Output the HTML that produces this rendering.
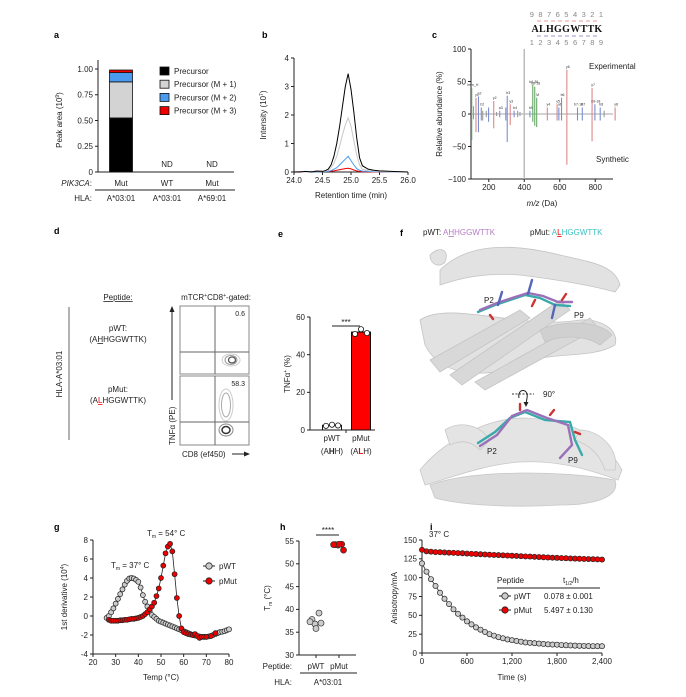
<!DOCTYPE html>
<html><head><meta charset="utf-8"><style>
html,body{margin:0;padding:0;background:#fff;}
svg{display:block;font-family:"Liberation Sans",Arial,sans-serif;}
.t{font-size:8px;fill:#222}
.s{font-size:7px;fill:#222}
.L{font-size:9px;font-weight:bold;fill:#000}
.ax{stroke:#222;stroke-width:1;fill:none}
</style></head><body>
<svg id="fig" width="686" height="697" viewBox="0 0 686 697" xmlns="http://www.w3.org/2000/svg">
<text class="L" x="54" y="38">a</text>
<text class="L" x="262" y="38">b</text>
<text class="L" x="432" y="38">c</text>
<text class="L" x="54" y="234">d</text>
<text class="L" x="278" y="237">e</text>
<text class="L" x="400" y="236">f</text>
<text class="L" x="54" y="530">g</text>
<text class="L" x="280" y="530">h</text>
<text class="L" x="430" y="530">i</text>

<!-- panel a static labels -->
<text class="t" x="62" y="120" transform="rotate(-90 62 120)" text-anchor="middle">Peak area (10<tspan font-size="5" dy="-3">9</tspan><tspan dy="3">)</tspan></text>
<text class="t" x="92" y="186" text-anchor="end" font-style="italic">PIK3CA<tspan font-style="normal">:</tspan></text>
<line x1="95" y1="190" x2="235" y2="190" stroke="#222"/>
<text class="t" x="92" y="201" text-anchor="end">HLA:</text>

<!-- panel b static -->
<text class="t" x="266" y="115" transform="rotate(-90 266 115)" text-anchor="middle">Intensity (10<tspan font-size="5" dy="-3">7</tspan><tspan dy="3">)</tspan></text>
<text class="t" x="351" y="198" text-anchor="middle">Retention time (min)</text>

<!-- panel c static -->
<text class="t" x="442" y="114" transform="rotate(-90 442 114)" text-anchor="middle">Relative abundance (%)</text>
<text class="t" x="542" y="206" text-anchor="middle"><tspan font-style="italic">m/z</tspan> (Da)</text>
<text class="t" x="589" y="69">Experimental</text>
<text class="t" x="596" y="162">Synthetic</text>
<g>
<text x="567" y="17" text-anchor="middle" font-size="7.5" fill="#888" letter-spacing="1.2">9 8 7 6 5 4 3 2 1</text>
<text x="567" y="32" text-anchor="middle" font-size="10" font-weight="bold" font-family="Liberation Serif,serif" fill="#111" letter-spacing="0.3">ALHGGWTTK</text>
<text x="567" y="45" text-anchor="middle" font-size="7.5" fill="#888" letter-spacing="1.2">1 2 3 4 5 6 7 8 9</text>
<path d="M537 21h60" stroke="#e99" stroke-dasharray="4 3" stroke-width="1"/>
<path d="M537 36h60" stroke="#99c" stroke-dasharray="4 3" stroke-width="1"/>
</g>

<!-- panel d -->
<text class="t" x="118" y="300" text-anchor="middle" text-decoration="underline">Peptide:</text>
<text class="t" x="216" y="300" text-anchor="middle">mTCR<tspan font-size="5" dy="-3">+</tspan><tspan dy="3">CD8</tspan><tspan font-size="5" dy="-3">+</tspan><tspan dy="3">-gated:</tspan></text>
<line x1="69" y1="307" x2="69" y2="440" stroke="#999" stroke-width="1.5"/>
<text class="t" x="62" y="374" transform="rotate(-90 62 374)" text-anchor="middle">HLA-A*03:01</text>
<text class="t" x="118" y="331" text-anchor="middle">pWT:</text>
<text class="t" x="118" y="342" text-anchor="middle">(A<tspan text-decoration="underline">H</tspan>HGGWTTK)</text>
<text class="t" x="118" y="392" text-anchor="middle">pMut:</text>
<text class="t" x="118" y="403" text-anchor="middle">(A<tspan fill="#e00" text-decoration="underline">L</tspan>HGGWTTK)</text>
<g>
<rect x="180" y="306" width="69" height="68" fill="#fff" stroke="#888"/>
<line x1="215" y1="306" x2="215" y2="374" stroke="#666"/><line x1="180" y1="352" x2="249" y2="352" stroke="#666"/>
<ellipse cx="231" cy="360" rx="9" ry="6" fill="none" stroke="#ccc"/>
<ellipse cx="231" cy="360" rx="6" ry="4.5" fill="none" stroke="#999"/>
<ellipse cx="232" cy="360" rx="3.5" ry="3" fill="none" stroke="#555" stroke-width="1.3"/>
<text class="s" x="245" y="316" text-anchor="end" font-size="8">0.6</text>
</g>
<g>
<rect x="180" y="376" width="69" height="69" fill="#fff" stroke="#888"/>
<line x1="215" y1="376" x2="215" y2="445" stroke="#666"/><line x1="180" y1="422" x2="249" y2="422" stroke="#666"/>
<ellipse cx="226" cy="405" rx="7" ry="16" fill="none" stroke="#ccc"/>
<ellipse cx="226" cy="405" rx="4.5" ry="12" fill="none" stroke="#aaa"/>
<ellipse cx="226" cy="430" rx="7" ry="6" fill="none" stroke="#888"/>
<ellipse cx="226" cy="430" rx="4" ry="3.5" fill="none" stroke="#333" stroke-width="1.5"/>
<text class="s" x="245" y="386" text-anchor="end" font-size="8">58.3</text>
</g>
<g>
<text class="t" x="175" y="445" transform="rotate(-90 175 445)">TNFα (PE)</text>
<line x1="172" y1="400" x2="172" y2="308" stroke="#222"/><path d="M169.5 312L172 306L174.5 312Z" fill="#222"/>
<text class="t" x="182" y="457">CD8 (ef450)</text>
<line x1="232" y1="454" x2="248" y2="454" stroke="#222"/><path d="M244 451.5L250 454L244 456.5Z" fill="#222"/>
</g>

<!-- panel e static -->
<text class="t" x="290" y="374" transform="rotate(-90 290 374)" text-anchor="middle">TNFα<tspan font-size="5" dy="-3">+</tspan><tspan dy="3"> (%)</tspan></text>
<text class="t" x="332" y="441" text-anchor="middle">pWT</text>
<text class="t" x="332" y="454" text-anchor="middle">(A<tspan font-weight="bold">H</tspan>H)</text>
<text class="t" x="361" y="441" text-anchor="middle">pMut</text>
<text class="t" x="361" y="454" text-anchor="middle">(A<tspan fill="#e00" font-weight="bold">L</tspan>H)</text>

<!-- panel f -->
<text class="t" x="423" y="235">pWT: <tspan fill="#b57bc4">A<tspan text-decoration="underline">H</tspan>HGGWTTK</tspan></text>
<text class="t" x="530" y="235">pMut: <tspan fill="#3cc1c1">A<tspan fill="#e00" text-decoration="underline">L</tspan>HGGWTTK</tspan></text>
<g fill="#e2e2e2" stroke="#c4c4c4" stroke-width="0.8">
<path d="M440 270 C470 240,520 245,560 255 C590 262,615 265,620 285 L615 292 C590 285,560 280,520 275 C480 272,455 280,440 285Z"/>
<path d="M420 320 C450 300,520 330,580 320 C600 318,620 330,615 345 C590 360,550 350,520 365 C480 380,440 375,425 345Z"/>
<path d="M430 360 L520 310 L530 318 L440 372Z" fill="#d8d8d8"/>
<path d="M450 375 L560 300 L570 310 L462 385Z" fill="#d8d8d8"/>
<path d="M475 382 L590 318 L598 328 L485 390Z" fill="#d8d8d8"/>
<path d="M540 330 C560 320,600 320,612 335 L600 345 C585 335,560 335,545 342Z" fill="#d0d0d0"/>
<path d="M430 255 C440 245,450 250,445 262 C440 268,430 265,430 255Z"/>
</g>
<g stroke-width="2.4" fill="none" stroke-linecap="round">
<path d="M478 312 L495 305 L510 300 L525 295 L540 298 L555 305 L570 306" stroke="#3aa9a9"/>
<path d="M480 310 L497 303 L512 298 L528 293 L543 296 L558 302 L572 302" stroke="#9a70b8"/>
<path d="M498 305 L502 292 M528 294 L532 280 M555 305 L552 318" stroke="#5566bb"/>
<path d="M490 315 l3 4 M535 300 l-3 6 M562 300 l4 -6" stroke="#c33"/>
</g>
<text class="t" x="484" y="303">P2</text>
<text class="t" x="574" y="318">P9</text>
<g>
<line x1="512" y1="394" x2="534" y2="394" stroke="#333" stroke-dasharray="2 1.5"/>
<path d="M519 398 C517 388,529 388,527 398 L526 404" fill="none" stroke="#222"/>
<path d="M523.5 402 L526 407 L528.5 402Z" fill="#222"/>
<text class="t" x="543" y="397">90°</text>
</g>
<g fill="#e4e4e4" stroke="#c8c8c8" stroke-width="0.8">
<path d="M420 470 C440 445,480 420,520 418 C560 418,600 430,622 470 L618 480 C590 470,560 460,520 462 C480 465,445 480,425 485Z"/>
<path d="M430 485 C470 470,560 470,615 480 C620 495,600 505,560 505 C510 508,460 505,435 498Z" fill="#dcdcdc"/>
<path d="M445 430 C460 420,480 425,490 440 L480 450 C470 440,460 440,450 445Z"/>
<path d="M580 430 C600 430,620 450,615 470 L605 470 C600 455,590 445,575 440Z"/>
</g>
<g stroke-width="2.4" fill="none" stroke-linecap="round">
<path d="M478 443 L495 432 L510 418 L525 412 L545 420 L570 422 L575 440 L582 455" stroke="#3aa9a9"/>
<path d="M480 446 L497 435 L512 416 L527 410 L547 418 L568 425 L572 445 L560 458" stroke="#9a70b8"/>
<path d="M520 410 l0 -6 M550 415 l4 -5 M575 432 l5 2" stroke="#c33"/>
</g>
<text class="t" x="487" y="454">P2</text>
<text class="t" x="568" y="463">P9</text>

<!-- panel g static -->
<text class="t" x="67" y="597" transform="rotate(-90 67 597)" text-anchor="middle">1st derivative (10<tspan font-size="5" dy="-3">4</tspan><tspan dy="3">)</tspan></text>
<text class="t" x="161" y="680" text-anchor="middle">Temp (°C)</text>
<text class="t" x="147" y="536">T<tspan font-size="5" dy="2">m</tspan><tspan dy="-2"> = 54° C</tspan></text>
<text class="t" x="111" y="568">T<tspan font-size="5" dy="2">m</tspan><tspan dy="-2"> = 37° C</tspan></text>
<g>
<line x1="203" y1="566" x2="215" y2="566" stroke="#222"/><circle cx="209" cy="566" r="3.2" fill="#ccc" stroke="#222" stroke-width="0.8"/>
<text class="t" x="219" y="569">pWT</text>
<line x1="203" y1="581" x2="215" y2="581" stroke="#222"/><circle cx="209" cy="581" r="3.2" fill="#e00" stroke="#222" stroke-width="0.8"/>
<text class="t" x="219" y="584">pMut</text>
</g>

<!-- panel h static -->
<text class="t" x="270" y="598" transform="rotate(-90 270 598)" text-anchor="middle">T<tspan font-size="5" dy="2">m</tspan><tspan dy="-2"> (°C)</tspan></text>
<text class="t" x="292" y="669" text-anchor="end">Peptide:</text>
<text class="t" x="316" y="669" text-anchor="middle">pWT</text>
<text class="t" x="339" y="669" text-anchor="middle">pMut</text>
<line x1="300" y1="673" x2="357" y2="673" stroke="#222"/>
<text class="t" x="292" y="685" text-anchor="end">HLA:</text>
<text class="t" x="328" y="685" text-anchor="middle">A*03:01</text>
<line x1="316" y1="535" x2="339" y2="535" stroke="#222"/>
<text class="t" x="328" y="533" text-anchor="middle" font-size="7">****</text>

<!-- panel i static -->
<text class="t" x="397" y="598" transform="rotate(-90 397 598)" text-anchor="middle">Anisotropy/mA</text>
<text class="t" x="512" y="680" text-anchor="middle">Time (s)</text>
<text class="t" x="429" y="537">37° C</text>
<g>
<text class="t" x="497" y="583">Peptide</text>
<text class="t" x="563" y="583">t<tspan font-size="5" dy="2">1/2</tspan><tspan dy="-2">/h</tspan></text>
<line x1="497" y1="588" x2="600" y2="588" stroke="#222"/>
<line x1="499" y1="596" x2="511" y2="596" stroke="#222"/><circle cx="505" cy="596" r="3.2" fill="#ccc" stroke="#222" stroke-width="0.8"/>
<text class="t" x="514" y="599">pWT</text><text class="t" x="544" y="599">0.078 ± 0.001</text>
<line x1="499" y1="610" x2="511" y2="610" stroke="#222"/><circle cx="505" cy="610" r="3.2" fill="#e00" stroke="#222" stroke-width="0.8"/>
<text class="t" x="514" y="613">pMut</text><text class="t" x="544" y="613">5.497 ± 0.130</text>
</g>
</svg>
<script>
// ---------- data ----------
const aCategories = ["Mut","WT","Mut"];
const aHla = ["A*03:01","A*03:01","A*69:01"];
const aPrecursor = [0.525, 0, 0];
const aM1 = [0.35, 0, 0];
const aM2 = [0.09, 0, 0];
const aM3 = [0.025, 0, 0];
const aTicks = [0, 0.25, 0.5, 0.75, 1.0];
const aTickLabels = ["0","0.25","0.50","0.75","1.00"];
const aLegend = ["Precursor","Precursor (M + 1)","Precursor (M + 2)","Precursor (M + 3)"];

const bTime = [24.0,24.1,24.2,24.3,24.4,24.5,24.55,24.6,24.65,24.7,24.75,24.8,24.85,24.9,24.95,25.0,25.05,25.1,25.15,25.2,25.3,25.4,25.5,25.7,26.0];
const bPrecursor = [0,0,0.02,0,0.03,0.02,0.05,0.1,0.25,0.55,1.0,1.6,2.3,3.0,3.45,2.9,2.1,1.2,0.5,0.22,0.1,0.06,0.04,0.02,0];
const bM1 = [0,0,0,0,0.02,0.02,0.03,0.06,0.15,0.3,0.55,0.9,1.3,1.65,1.9,1.6,1.1,0.6,0.25,0.1,0.05,0.03,0.02,0.01,0];
const bM2 = [0,0,0,0.02,0,0.01,0.02,0.02,0.05,0.1,0.15,0.25,0.35,0.45,0.55,0.4,0.25,0.12,0.06,0.03,0.02,0.01,0.01,0,0];
const bM3 = [0,0.01,0,0.01,0.03,0.02,0.02,0.02,0.03,0.04,0.06,0.08,0.1,0.12,0.13,0.11,0.07,0.04,0.02,0.01,0.01,0,0,0,0];
const bXTicks = [24.0,24.5,25.0,25.5,26.0];
const bYTicks = [0,1,2,3,4];

const cMz = [104,114,128,142,158,166,186,199,228,244,262,296,304,321,343,363,376,400,432,448,459,470,530,585,595,610,640,700,727,782,798,828,850,912];
const cExp = [40,12,25,27,10,5,5,10,20,3,5,10,28,15,5,5,3,100,5,45,42,25,10,15,10,25,68,10,10,40,15,10,5,10];
const cSyn = [-40,-8,-28,-28,-10,-10,-5,-12,-22,-3,-5,-10,-43,-17,-5,-5,-3,-100,-5,-12,-18,-20,-10,-10,-10,-10,-78,-10,-10,-42,-10,-10,-5,-10];
const cKind = ["g","k","r","b","b","k","k","b","r","k","b","b","b","r","b","k","k","x","b","g","g","g","r","r","b","b","r","b","b","r","b","b","k","r"];
const cLabels = ["Imm_H","","y1","a2","b2","","","","y2","","a3","","b3","y3","b4","","","","b5","b6-36","b6-18","M","y4","y5","a6","b6","y6","b7-18","b7","y7","b9-18","b8","","y8"];
const cXTicks = [200,400,600,800];
const cYTicks = [-100,-50,0,50,100];

const eCategories = ["pWT","pMut"];
const eMeans = [2.5, 52];
const ePWT = [2.2, 2.8, 2.4];
const ePMut = [51, 53.5, 51.5];
const eYTicks = [0,20,40,60];

const gTempWT = [26,27,28,29,30,31,32,33,34,35,36,37,38,39,40,41,42,43,44,45,46,47,48,49,50,51,52,53,54,55,56,57,58,59,60,61,62,63,64,65,66,67,68,69,70,71,72,73,74,75,76,77,78,79,80];
const gWT = [-0.2,0,0.4,0.8,1.3,1.8,2.3,2.8,3.3,3.7,3.95,4.0,3.95,3.8,3.6,3.0,2.2,1.5,1.0,0.5,0.1,-0.1,-0.3,-0.5,-0.6,-0.7,-0.8,-0.9,-1.0,-1.1,-1.2,-1.3,-1.4,-1.5,-1.6,-1.7,-1.8,-1.9,-2.0,-2.05,-2.1,-2.15,-2.2,-2.2,-2.2,-2.15,-2.1,-2.0,-1.9,-1.8,-1.7,-1.65,-1.6,-1.5,-1.4];
const gTempMut = [27,28,29,30,31,32,33,34,35,36,37,38,39,40,41,42,43,44,45,46,47,48,49,50,51,52,53,54,55,56,57,58,59,60,61,62,63,64,65,66,67,68,69,70,72,74];
const gMut = [-0.4,-0.5,-0.5,-0.5,-0.5,-0.45,-0.45,-0.4,-0.4,-0.35,-0.3,-0.3,-0.25,-0.2,-0.1,0,0.2,0.4,0.7,1.0,1.4,2.1,2.9,4.0,5.3,6.6,7.3,7.6,6.8,4.4,1.9,0,-1.3,-1.7,-1.8,-1.9,-1.95,-2.0,-1.9,-2.1,-2.3,-2.2,-2.2,-2.2,-2.1,-1.8];
const gXTicks = [20,30,40,50,60,70,80];
const gYTicks = [-4,-2,0,2,4,6,8];

const hCategories = ["pWT","pMut"];
const hPWT = [37.8,39.2,36.8,35.8,37.0,37.3];
const hPMut = [54.2,54.3,54.1,54.3,53.0,54.2];
const hYTicks = [30,35,40,45,50,55];

const iTime = [0,60,120,180,240,300,360,420,480,540,600,660,720,780,840,900,960,1020,1080,1140,1200,1260,1320,1380,1440,1500,1560,1620,1680,1740,1800,1860,1920,1980,2040,2100,2160,2220,2280,2340,2400];
const iWT = [119,108,98,89,80,72,65,58,52,47,42,38,34,31,28,25,23,21,19.5,18,17,16,15,14,13.5,13,12.5,12,11.5,11.2,11,10.6,10.3,10,9.8,9.6,9.4,9.2,9.1,9,9];
const iMut = [137,135,134.5,134,133.8,133.5,133.2,133,132.7,132.4,132,131.7,131.4,131.1,130.8,130.5,130.2,130,129.7,129.4,129.1,128.8,128.5,128.2,128,127.7,127.4,127.1,126.8,126.5,126.3,126,125.8,125.5,125.3,125.1,124.9,124.7,124.5,124.3,124];
const iXTicks = [0,600,1200,1800,2400];
const iXTickLabels = ["0","600","1,200","1,800","2,400"];
const iYTicks = [0,25,50,75,100,125,150];

// ---------- helpers ----------
const NS = "http://www.w3.org/2000/svg";
const svg = document.getElementById("fig");
function mk(tag, attrs, parent){ const e=document.createElementNS(NS,tag); for(const k in attrs) e.setAttribute(k,attrs[k]); (parent||svg).appendChild(e); return e; }
function lin(d0,d1,r0,r1){ return v => r0 + (v-d0)*(r1-r0)/(d1-d0); }
function txt(x,y,s,anchor,parent){ const t=mk("text",{x:x,y:y,"class":"t","text-anchor":anchor||"middle"},parent); t.textContent=s; return t; }
function yAxis(x, y0, y1, ticks, labels, sc, name){
  const g=mk("g",{});
  
  
  mk("line",{x1:x,y1:y0,x2:x,y2:y1,"class":"ax"},g);
  ticks.forEach((v,i)=>{ const y=sc(v); mk("line",{x1:x-3,y1:y,x2:x,y2:y,"class":"ax"},g); txt(x-5,y+2.8,labels[i],"end",g); });
  return g;
}
function xAxis(y, x0, x1, ticks, labels, sc, name, noLabels){
  const g=mk("g",{});
  
  
  mk("line",{x1:x0,y1:y,x2:x1,y2:y,"class":"ax"},g);
  ticks.forEach((v,i)=>{ const x=sc(v); mk("line",{x1:x,y1:y,x2:x,y2:y+3,"class":"ax"},g); if(!noLabels) txt(x,y+11,labels[i],"middle",g); });
  return g;
}

// ---------- panel a ----------
(function(){
  const ys = lin(0,1,172,69);
  yAxis(98,60,172,aTicks,aTickLabels,ys,"a-y-axis");
  const ax=mk("line",{x1:98,y1:172,x2:234,y2:172,"class":"ax"});
  
  
  const cx=[121,167,212];
  const series=[aPrecursor,aM1,aM2,aM3], cols=["#000","#d3d3d3","#4a9bf0","#e00"];
  aCategories.forEach((c,i)=>{
    let base=0;
    series.forEach((s,k)=>{
      if(s[i]<=0) return;
      const r=mk("rect",{x:cx[i]-11.5,y:ys(base+s[i]),width:23,height:ys(base)-ys(base+s[i]),fill:cols[k],stroke:"#111","stroke-width":0.8});
      
      
      base+=s[i];
    });
    if(base===0){ const t=txt(cx[i],167,"ND");   }
    const t1=txt(cx[i],186,c);  
    const t2=txt(cx[i],201,aHla[i]);  
  });
  aLegend.forEach((l,k)=>{
    const g=mk("g",{});
    
    
    mk("rect",{x:160,y:67+k*13.2,width:9,height:8,fill:cols[k],stroke:"#111","stroke-width":0.8},g);
    txt(174,74+k*13.2,l,"start",g);
  });
})();

// ---------- panel b ----------
(function(){
  const xs=lin(24,26,294,408), ys=lin(0,4,172,58);
  yAxis(294,58,172,bYTicks,bYTicks.map(String),ys,"b-y-axis");
  xAxis(172,294,408,bXTicks,bXTicks.map(v=>v.toFixed(1)),xs,"b-x-axis");
  [[bM3,"#e00"],[bM2,"#4a9bf0"],[bM1,"#c8c8c8"],[bPrecursor,"#000"]].forEach(([s,c],k)=>{
    const p=mk("polyline",{points:bTime.map((t,i)=>xs(t)+","+ys(s[i])).join(" "),fill:"none",stroke:c,"stroke-width":1});
    
    
  });
})();

// ---------- panel c ----------
(function(){
  const xs=lin(100,900,471,613), ys=lin(-100,100,179,49);
  yAxis(471,49,179,cYTicks,cYTicks.map(v=>v<0?"−"+(-v):String(v)),ys,"c-y-axis");
  xAxis(179,471,613,cXTicks,cXTicks.map(String),xs,"c-x-axis");
  const cmap={g:"#6aa86a",k:"#999",r:"#d88",b:"#7a8fd0",x:"#bbb"};
  mk("line",{x1:471,y1:ys(0),x2:613,y2:ys(0),stroke:"#888","stroke-width":0.8});
  cMz.forEach((m,i)=>{
    const x=xs(m);
    const l=mk("line",{x1:x,y1:ys(cSyn[i]),x2:x,y2:ys(cExp[i]),stroke:cmap[cKind[i]],"stroke-width":cKind[i]==="x"?1.5:1.1});
    
    
    if(cLabels[i]){ const t=mk("text",{x:x+1,y:ys(cExp[i])-2,"font-size":"3.5",fill:"#333","text-anchor":"middle"}); t.textContent=cLabels[i];
      
       }
  });
})();

// ---------- panel e ----------
(function(){
  const ys=lin(0,60,430,317);
  yAxis(310,317,430,eYTicks,eYTicks.map(String),ys,"e-y-axis");
  xAxis(430,310,375,[],[],v=>v,"e-x-axis",true);
  mk("line",{x1:346,y1:430,x2:346,y2:433,"class":"ax"});
  const cx=[332,361], pts=[ePWT,ePMut], cols=["#fff","#f00"];
  eCategories.forEach((c,i)=>{
    const r=mk("rect",{x:cx[i]-9.5,y:ys(eMeans[i]),width:19,height:430-ys(eMeans[i]),fill:cols[i],stroke:"#111","stroke-width":1});
    
    
    pts[i].forEach((v,k)=>{ const d=mk("circle",{cx:cx[i]-6+k*6,cy:ys(v),r:2.6,fill:"#fff",stroke:"#111","stroke-width":0.8});
      
       });
  });
  const sb=mk("line",{x1:332,y1:326,x2:360,y2:326,stroke:"#222"});
  
  
  const st=txt(346,325,"***"); st.setAttribute('font-size','7');
  
  
})();

// ---------- panel g ----------
(function(){
  const xs=lin(20,80,93,229), ys=lin(-4,8,654,540);
  yAxis(93,540,654,gYTicks,gYTicks.map(String),ys,"g-y-axis");
  xAxis(654,93,229,gXTicks,gXTicks.map(String),xs,"g-x-axis");
  [[gTempWT,gWT,"#ccc","pwt"],[gTempMut,gMut,"#e00","pmut"]].forEach(([t,v,c,n])=>{
    const p=mk("polyline",{points:t.map((tt,i)=>xs(tt)+","+ys(v[i])).join(" "),fill:"none",stroke:"#222","stroke-width":0.8});
    
    
    t.forEach((tt,i)=>{ const d=mk("circle",{cx:xs(tt),cy:ys(v[i]),r:2.5,fill:c,stroke:"#222","stroke-width":0.7});
      
       });
  });
})();

// ---------- panel h ----------
(function(){
  const ys=lin(30,55,655,541);
  yAxis(299,541,655,hYTicks,hYTicks.map(String),ys,"h-y-axis");
  xAxis(655,299,356,[],[],v=>v,"h-x-axis",true);
  const cx=[316,339], pts=[hPWT,hPMut], cols=["#ccc","#e00"];
  const offs=[-4,3,-1,0,5,-6];
  hCategories.forEach((c,i)=>{
    mk("line",{x1:cx[i],y1:655,x2:cx[i],y2:658,"class":"ax"});
    pts[i].forEach((v,k)=>{ const d=mk("circle",{cx:cx[i]+offs[k]*(i?0.9:1),cy:ys(v),r:3,fill:cols[i],stroke:"#333","stroke-width":0.7});
      
       });
  });
})();

// ---------- panel i ----------
(function(){
  const xs=lin(0,2400,422,602), ys=lin(0,150,653,540);
  yAxis(422,540,653,iYTicks,iYTicks.map(String),ys,"i-y-axis");
  xAxis(653,422,602,iXTicks,iXTickLabels,xs,"i-x-axis");
  [[iWT,"#ccc","pwt"],[iMut,"#e00","pmut"]].forEach(([v,c,n])=>{
    const p=mk("polyline",{points:iTime.map((t,i)=>xs(t)+","+ys(v[i])).join(" "),fill:"none",stroke:"#222","stroke-width":0.8});
    
    
    iTime.forEach((t,i)=>{ const d=mk("circle",{cx:xs(t),cy:ys(v[i]),r:2.6,fill:c,stroke:"#222","stroke-width":0.7});
      
       });
  });
})();
</script>
</body></html>
